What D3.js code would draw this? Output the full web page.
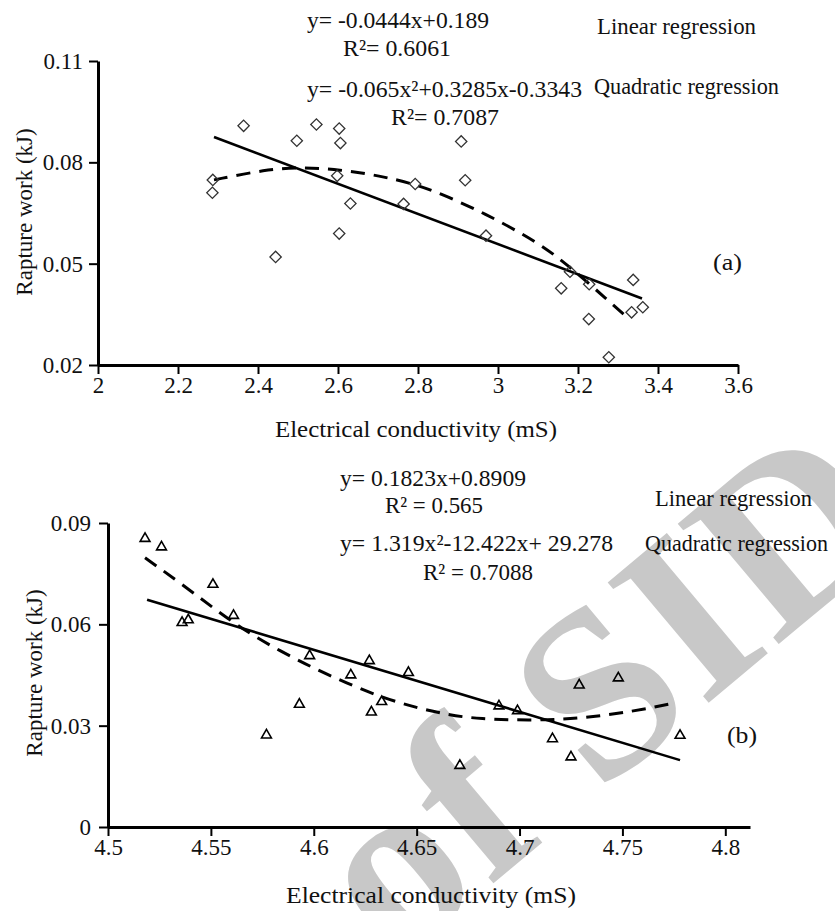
<!DOCTYPE html>
<html><head><meta charset="utf-8">
<script src="https://cdn.jsdelivr.net/npm/d3@7"></script>
<style>
html,body{margin:0;padding:0;background:#fff;}
svg{display:block;}
svg text{font-family:'Liberation Serif','Tinos','Times New Roman','DejaVu Serif',serif;}
</style></head><body>
<svg id="chart" width="835" height="911"></svg>
<script>
// ---------- Panel (a) data ----------
const condA = [2.287,2.286,2.364,2.497,2.546,2.603,2.606,2.598,2.631,2.603,2.444,2.764,2.793,2.908,2.918,2.970,3.180,3.158,3.228,3.227,3.338,3.334,3.362,3.277];
const workA = [0.0748,0.0710,0.0908,0.0864,0.0912,0.0900,0.0857,0.0760,0.0678,0.0589,0.0520,0.0677,0.0736,0.0862,0.0747,0.0583,0.0476,0.0427,0.0439,0.0336,0.0452,0.0356,0.0371,0.0223];
const linFitAx = [2.29,3.36];
const linFitAy = [0.0875,0.0397];
const quadFitAx = [2.29,2.42,2.505,2.605,2.705,2.79,2.855,2.963,3.105,3.18,3.272,3.33];
const quadFitAy = [0.0748,0.0779,0.0785,0.0779,0.0760,0.0736,0.0708,0.0652,0.0560,0.0490,0.0395,0.0333];
const xTicksA = [2,2.2,2.4,2.6,2.8,3,3.2,3.4,3.6];
const xTickLabelsA = ["2","2.2","2.4","2.6","2.8","3","3.2","3.4","3.6"];
const yTicksA = [0.02,0.05,0.08,0.11];
const yTickLabelsA = ["0.02","0.05","0.08","0.11"];

// ---------- Panel (b) data ----------
const condB = [4.518,4.526,4.536,4.539,4.551,4.561,4.577,4.593,4.598,4.618,4.627,4.628,4.633,4.646,4.671,4.690,4.699,4.716,4.725,4.729,4.748,4.778];
const workB = [0.0854,0.0829,0.0605,0.0613,0.0718,0.0626,0.0272,0.0363,0.0507,0.0450,0.0492,0.0340,0.0371,0.0457,0.0182,0.0358,0.0344,0.0261,0.0207,0.0420,0.0441,0.0271];
const linFitBx = [4.519,4.778];
const linFitBy = [0.0673,0.0198];
const quadFitBx = [4.518,4.535,4.551,4.567,4.584,4.600,4.616,4.632,4.648,4.665,4.680,4.707,4.731,4.755,4.776];
const quadFitBy = [0.0797,0.0723,0.0649,0.0579,0.0520,0.0470,0.0426,0.0386,0.0356,0.0332,0.0320,0.0315,0.0322,0.0342,0.0368];
const xTicksB = [4.5,4.55,4.6,4.65,4.7,4.75,4.8];
const xTickLabelsB = ["4.5","4.55","4.6","4.65","4.7","4.75","4.8"];
const yTicksB = [0,0.03,0.06,0.09];
const yTickLabelsB = ["0","0.03","0.06","0.09"];

// ---------- Texts ----------
const xTitle = "Electrical conductivity (mS)";
const yTitle = "Rapture work (kJ)";
const notesA = ["y= -0.0444x+0.189","R\u00B2= 0.6061","Linear regression","y= -0.065x\u00B2+0.3285x-0.3343","Quadratic regression","R\u00B2= 0.7087","(a)"];
const notesB = ["y= 0.1823x+0.8909","R\u00B2 = 0.565","Linear regression","y= 1.319x\u00B2-12.422x+ 29.278","Quadratic regression","R\u00B2 = 0.7088","(b)"];
const watermark = "of SID";

const svg = d3.select("#chart");
const FONT = "Liberation Serif, Tinos, Times New Roman, DejaVu Serif, serif";
const INK = "#111";

// watermark (behind everything)
svg.append("text")
  .attr("transform","translate(395,966) rotate(-40)")
  .attr("font-family",FONT)
  .attr("font-size",240).attr("font-weight","bold")
  .attr("letter-spacing",2)
  .attr("fill","#c8c8c8")
  .text(watermark);

// layout of notes (position/size only)
const notePosA = [[307,28,182],[343,56,108],[597,34,159],[307,97,275],[594,94,185],[391,125,108],[713,270,29]];
const notePosB = [[340,486,186],[385,513,98],[655,506,157],[340,551,273],[645,551,183],[423,580,110],[727,743,30]];

function panel(o){
  const g = svg.append("g");
  const x = d3.scaleLinear().domain(o.xDomain).range(o.xRange);
  const y = d3.scaleLinear().domain(o.yDomain).range(o.yRange);

  const gx = g.append("g").attr("transform",`translate(0,${o.yRange[0]})`)
    .call(d3.axisBottom(x).tickValues(o.xTicks).tickFormat((d,i)=>o.xLabels[i])
      .tickSize(9).tickSizeOuter(0).tickPadding(3));
  const gy = g.append("g").attr("transform",`translate(${o.xRange[0]},0)`)
    .call(d3.axisLeft(y).tickValues(o.yTicks).tickFormat((d,i)=>o.yLabels[i])
      .tickSize(9).tickSizeOuter(0).tickPadding(o.yPad));
  [gx,gy].forEach(a=>{
    a.attr("font-family",FONT);
    a.select(".domain").attr("stroke","#000").attr("stroke-width",3);
    a.selectAll(".tick line").attr("stroke","#000").attr("stroke-width",2);
    a.selectAll(".tick text").attr("font-family",FONT).attr("font-size",23).attr("fill",INK);
  });

  // fits
  const lin = d3.line().x(d=>x(d[0])).y(d=>y(d[1]));
  g.append("path").datum(d3.zip(o.linX,o.linY)).attr("d",lin)
    .attr("fill","none").attr("stroke","#000").attr("stroke-width",2.6);
  g.append("path").datum(d3.zip(o.quadX,o.quadY)).attr("d",lin.curve(d3.curveBasis))
    .attr("fill","none").attr("stroke","#000").attr("stroke-width",3)
    .attr("stroke-dasharray","14,9");

  // points
  const sym = d3.symbol().type(o.symbol).size(o.symSize);
  g.selectAll("path.pt").data(d3.zip(o.px,o.py)).join("path").attr("class","pt")
    .attr("d",sym)
    .attr("transform",d=>`translate(${x(d[0])},${y(d[1])}) rotate(${o.symRot})`)
    .attr("fill","none").attr("stroke",o.symStroke).attr("stroke-width",o.symW);

  // axis titles
  g.append("text").attr("x",o.xTitlePos[0]).attr("y",o.xTitlePos[1])
    .attr("font-family",FONT)
    .attr("textLength",o.xTitlePos[2]).attr("lengthAdjust","spacingAndGlyphs")
    .attr("font-size",24).attr("fill",INK).text(xTitle);
  g.append("text").attr("transform",`translate(${o.yTitlePos[0]},${o.yTitlePos[1]}) rotate(-90)`)
    .attr("font-family",FONT)
    .attr("text-anchor","middle").attr("font-size",23).attr("fill",INK).text(yTitle);

  // notes
  o.notes.forEach((t,i)=>{
    const p = o.notePos[i];
    g.append("text").attr("x",p[0]).attr("y",p[1])
      .attr("font-family",FONT)
      .attr("textLength",p[2]).attr("lengthAdjust","spacingAndGlyphs")
      .attr("font-size",23).attr("fill",INK).text(t);
  });
}

panel({
  xDomain:[2,3.6], xRange:[98,738], yDomain:[0.02,0.11], yRange:[365,61],
  xTicks:xTicksA, xLabels:xTickLabelsA, yTicks:yTicksA, yLabels:yTickLabelsA, yPad:6,
  linX:linFitAx, linY:linFitAy, quadX:quadFitAx, quadY:quadFitAy,
  px:condA, py:workA, symbol:d3.symbolSquare, symSize:64, symRot:45, symStroke:"#333", symW:1.3,
  xTitlePos:[275,437,282], yTitlePos:[32,212],
  notes:notesA, notePos:notePosA
});
panel({
  xDomain:[4.5,4.812], xRange:[108,750], yDomain:[0,0.09], yRange:[827,523],
  xTicks:xTicksB, xLabels:xTickLabelsB, yTicks:yTicksB, yLabels:yTickLabelsB, yPad:8,
  linX:linFitBx, linY:linFitBy, quadX:quadFitBx, quadY:quadFitBy,
  px:condB, py:workB, symbol:d3.symbolTriangle, symSize:42, symRot:0, symStroke:"#000", symW:1.6,
  xTitlePos:[286,903,290], yTitlePos:[42,673],
  notes:notesB, notePos:notePosB
});
</script>
</body></html>
